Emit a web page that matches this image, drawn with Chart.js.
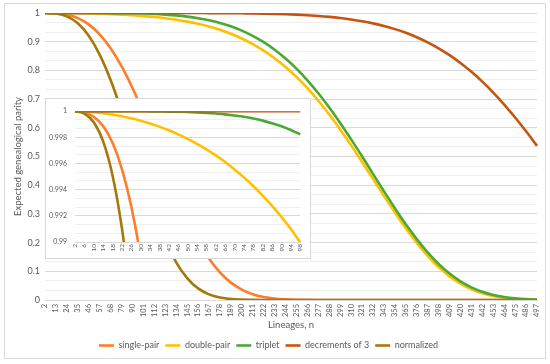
<!DOCTYPE html>
<html>
<head>
<meta charset="utf-8">
<script src="https://cdn.jsdelivr.net/npm/chart.js@4.4.0/dist/chart.umd.min.js"></script>
<style>
  body { margin: 0; background: #fff; }
  #wrap { position: relative; width: 550px; height: 364px; }
  #frame { position: absolute; left: 4px; top: 3px; width: 540px; height: 354px; border: 1px solid #d9d9d9; }
  #main { position: absolute; left: 0; top: 0; }
  #insetBox { position: absolute; left: 45px; top: 98px; width: 264px; height: 159px; border: 1px solid #d9d9d9; background: #fff; }
</style>
</head>
<body>
<div id="wrap">
  <div id="frame"></div>
  <canvas id="main" width="550" height="364"></canvas>
  <div id="insetBox"><canvas id="inset" width="264" height="159"></canvas></div>
</div>
<script>
const lineages = [2, 13, 24, 35, 46, 57, 68, 79, 90, 101, 112, 123, 134, 145, 156, 167, 178, 189, 200, 211, 222, 233, 244, 255, 266, 277, 288, 299, 310, 321, 332, 343, 354, 365, 376, 387, 398, 409, 420, 431, 442, 453, 464, 475, 486, 497];

const singlePair = [1, 0.9991, 0.9943, 0.9823, 0.9603, 0.9259, 0.8775, 0.8147, 0.7386, 0.6517, 0.5577, 0.4614, 0.3679, 0.2817, 0.2064, 0.1443, 0.0959, 0.0605, 0.0360, 0.0202, 0.0106, 0.0052, 0.0024, 0.0010, 0.0004, 0.0001, 0, 0, 0, 0, 0, 0, 0, 0, 0, 0, 0, 0, 0, 0, 0, 0, 0, 0, 0, 0];
const doublePair = [1, 0.9999, 0.9995, 0.9990, 0.9982, 0.9972, 0.9958, 0.9941, 0.9919, 0.9892, 0.9858, 0.9816, 0.9764, 0.9700, 0.9622, 0.9528, 0.9413, 0.9276, 0.9113, 0.8919, 0.8691, 0.8426, 0.8121, 0.7773, 0.7380, 0.6942, 0.6461, 0.5942, 0.5389, 0.4811, 0.4220, 0.3628, 0.3050, 0.2500, 0.1992, 0.1538, 0.1147, 0.0823, 0.0566, 0.0371, 0.0231, 0.0136, 0.0075, 0.0039, 0.0019, 0.0008];
const triplet = [1, 1, 1, 1, 1, 0.9999, 0.9997, 0.9994, 0.9989, 0.9980, 0.9966, 0.9945, 0.9916, 0.9875, 0.9820, 0.9747, 0.9654, 0.9537, 0.9385, 0.9203, 0.8983, 0.8722, 0.8414, 0.8060, 0.7655, 0.7204, 0.6706, 0.6168, 0.5596, 0.5010, 0.4396, 0.3791, 0.3200, 0.2639, 0.2122, 0.1658, 0.1256, 0.0920, 0.0650, 0.0441, 0.0286, 0.0177, 0.0104, 0.0058, 0.0030, 0.0015];
const decrements = [1, 1, 1, 1, 1, 1, 1, 1, 1, 1, 1, 1, 0.9999, 0.9999, 0.9998, 0.9997, 0.9995, 0.9993, 0.9989, 0.9985, 0.9978, 0.9969, 0.9957, 0.9942, 0.9922, 0.9897, 0.9865, 0.9824, 0.9774, 0.9713, 0.9638, 0.9547, 0.9438, 0.9309, 0.9156, 0.8977, 0.8770, 0.8531, 0.8258, 0.7951, 0.7607, 0.7226, 0.6809, 0.6358, 0.5877, 0.5371];
const normalized = [1, 0.9981, 0.9884, 0.9644, 0.9211, 0.8552, 0.7668, 0.6595, 0.5403, 0.4190, 0.3053, 0.2078, 0.1311, 0.0762, 0.0405, 0.0196, 0.0086, 0.0033, 0.0012, 0.0004, 0.0001, 0, 0, 0, 0, 0, 0, 0, 0, 0, 0, 0, 0, 0, 0, 0, 0, 0, 0, 0, 0, 0, 0, 0, 0, 0];

// zoomed view of the first lineages
const insetLineages = [2, 6, 10, 14, 18, 22, 26, 30, 34, 38, 42, 46, 50, 54, 58, 62, 66, 70, 74, 78, 82, 86, 90, 94, 98];
const insetSingle = [1, 0.99991, 0.99958, 0.99886, 0.99758, 0.99558, 0.99272, 0.98884, 0.98380, 0.97745, 0.9697, 0.9603, 0.9494, 0.9366, 0.9221, 0.9057, 0.8874, 0.8671, 0.8450, 0.8210, 0.7952, 0.7677, 0.7386, 0.7081, 0.6763];
const insetDouble = [1, 0.99997, 0.99992, 0.99985, 0.99974, 0.99962, 0.99946, 0.99927, 0.99906, 0.99882, 0.99854, 0.99823, 0.99789, 0.99750, 0.99708, 0.99662, 0.99611, 0.99555, 0.99494, 0.99428, 0.99355, 0.99277, 0.99192, 0.99099, 0.98999];
const insetTriplet = [1, 1, 1, 1, 1, 1, 1, 1, 0.99999, 0.99998, 0.99997, 0.99996, 0.99994, 0.99991, 0.99987, 0.99982, 0.99976, 0.99967, 0.99957, 0.99944, 0.99928, 0.99908, 0.99885, 0.99856, 0.99823];
const insetDecrements = [1, 1, 1, 1, 1, 1, 1, 1, 1, 1, 1, 1, 1, 1, 1, 1, 1, 1, 1, 1, 1, 1, 1, 1, 1];
const insetNormalized = [0.99999, 0.99982, 0.99916, 0.99769, 0.99509, 0.99105, 0.98527, 0.97746, 0.96735, 0.95473, 0.93936, 0.9211, 0.8998, 0.8755, 0.8481, 0.8177, 0.7844, 0.7485, 0.7102, 0.6699, 0.6278, 0.5845, 0.5403, 0.4959, 0.4517];

const seriesNames = ["single-pair", "double-pair", "triplet", "decrements of 3", "normalized"];
const seriesColors = ["#FF7C29", "#FFC000", "#4AA935", "#C5540F", "#A57809"];

Chart.defaults.font.family = "Lato, 'Open Sans', sans-serif";
Chart.defaults.color = "#595959";

function makeDatasets(seriesList) {
  return seriesList.map((values, i) => ({
    label: seriesNames[i],
    data: values,
    borderColor: seriesColors[i],
    backgroundColor: seriesColors[i],
    borderWidth: 2.6,
    pointRadius: 0,
    cubicInterpolationMode: "monotone",
    order: seriesList.length - i
  }));
}

function trimNumber(v, digits) {
  return String(parseFloat(v.toFixed(digits)));
}

new Chart(document.getElementById("main"), {
  type: "line",
  data: {
    labels: lineages.map(String),
    datasets: makeDatasets([singlePair, doublePair, triplet, decrements, normalized])
  },
  options: {
    responsive: false,
    animation: false,
    layout: { padding: { top: 13, right: 13, bottom: 4, left: 0 } },
    plugins: {
      tooltip: { enabled: false },
      legend: {
        position: "bottom",
        labels: {
          usePointStyle: true,
          pointStyle: "line",
          pointStyleWidth: 15,
          padding: 6,
          font: { size: 9 },
          sort: (a, b) => a.datasetIndex - b.datasetIndex
        }
      }
    },
    scales: {
      x: {
        grid: { display: false, drawTicks: false },
        border: { color: "#d9d9d9" },
        ticks: { autoSkip: false, minRotation: 90, maxRotation: 90, padding: 4, font: { size: 7.5 } },
        title: { display: true, text: "Lineages, n", font: { size: 9.5 }, padding: { top: 0, bottom: 4 } },
        afterFit: (scale) => { scale.height = 35; }
      },
      y: {
        min: 0,
        max: 1,
        afterBuildTicks: (scale) => {
          scale.ticks = Array.from({ length: 31 }, (_, k) => ({ value: k / 30 }));
        },
        afterFit: (scale) => { scale.width = 45; },
        grid: {
          drawTicks: false,
          color: (ctx) => ctx.index % 3 === 0 ? "#d9d9d9" : "#efefef"
        },
        border: { display: false },
        ticks: {
          autoSkip: false,
          padding: 5,
          font: { size: 9 },
          callback: (v, i) => i % 3 === 0 ? trimNumber(v, 1) : ""
        },
        title: { display: true, text: "Expected genealogical parity", font: { size: 9.5 }, padding: { top: 12, bottom: 0 } }
      }
    }
  }
});

new Chart(document.getElementById("inset"), {
  type: "line",
  data: {
    labels: insetLineages.map(String),
    datasets: makeDatasets([insetSingle, insetDouble, insetTriplet, insetDecrements, insetNormalized])
  },
  options: {
    responsive: false,
    animation: false,
    layout: { padding: { top: 8, right: 9, bottom: 0, left: 0 } },
    plugins: { tooltip: { enabled: false }, legend: { display: false } },
    scales: {
      x: {
        grid: { display: false, drawTicks: false },
        border: { color: "#d9d9d9" },
        ticks: { autoSkip: false, minRotation: 90, maxRotation: 90, padding: 2, font: { size: 6.5 } },
        afterFit: (scale) => { scale.height = 16; }
      },
      y: {
        min: 0.99,
        max: 1,
        afterBuildTicks: (scale) => {
          scale.ticks = Array.from({ length: 16 }, (_, k) => ({ value: 0.99 + k * 0.01 / 15 }));
        },
        afterFit: (scale) => { scale.width = 29; },
        grid: {
          drawTicks: false,
          color: (ctx) => ctx.index % 3 === 0 ? "#d9d9d9" : "#efefef"
        },
        border: { display: false },
        ticks: {
          autoSkip: false,
          padding: 8,
          font: { size: 7 },
          callback: (v, i) => i % 3 === 0 ? trimNumber(v, 3) : ""
        }
      }
    }
  }
});
</script>
</body>
</html>
